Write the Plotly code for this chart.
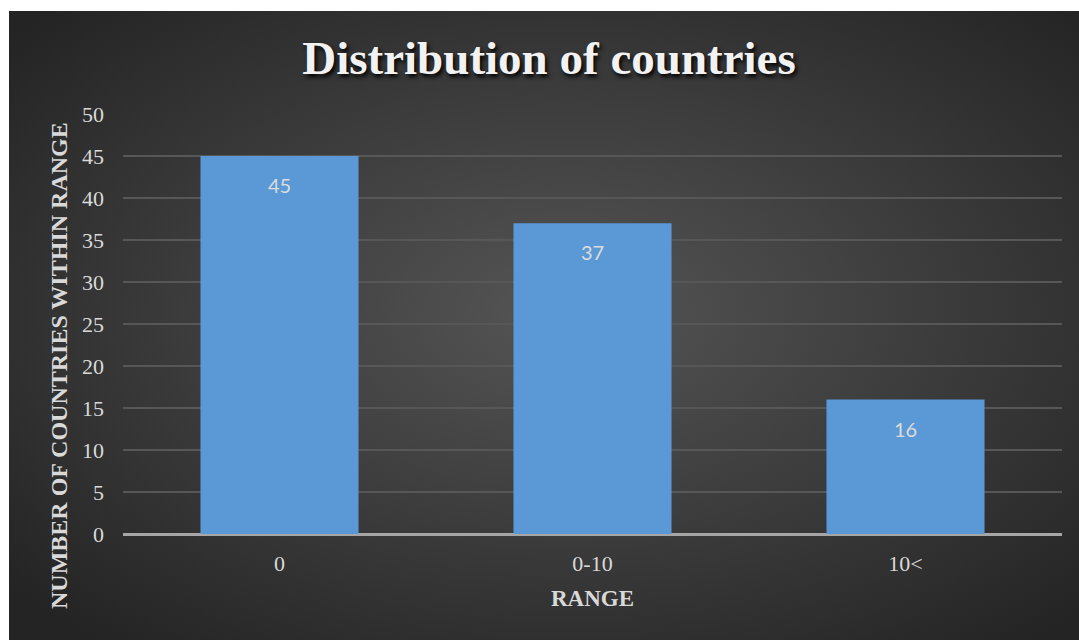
import plotly.graph_objects as go
import urllib.parse

categories = ["0", "0-10", "10<"]
counts = [45, 37, 16]
y_ticks = [0, 5, 10, 15, 20, 25, 30, 35, 40, 45, 50]

W, H = 1079, 640
svg = ('<svg xmlns="http://www.w3.org/2000/svg" width="1070" height="629" viewBox="0 0 1070 629">'
       '<defs><radialGradient id="g" cx="52%" cy="48%" r="68%">'
       '<stop offset="0" stop-color="#555555"/><stop offset="1" stop-color="#242424"/>'
       '</radialGradient></defs><rect width="1070" height="629" fill="url(#g)"/></svg>')
bg_src = "data:image/svg+xml;charset=utf-8," + urllib.parse.quote(svg)

fig = go.Figure()
fig.add_trace(go.Bar(
    x=categories, y=counts, width=0.505,
    marker=dict(color="#5a98d6", line=dict(width=0)),
    hoverinfo="skip",
))

for c, v in zip(categories, counts):
    fig.add_annotation(x=c, y=v, text=str(v), showarrow=False, yshift=-29,
                       font=dict(family="Lato, sans-serif", size=20, color="#dcdcdc"))

fig.add_annotation(xref="paper", yref="paper", x=-(123 - 59) / (1079 - 140), xanchor="center",
                   y=(640 - 366 - 106) / (640 - 114 - 106), yanchor="middle",
                   text="<b>NUMBER OF COUNTRIES WITHIN RANGE</b>", textangle=-90, showarrow=False,
                   font=dict(family="Liberation Serif", size=24, color="#d9d9d9"))
fig.add_annotation(xref="paper", yref="paper", x=0.5, y=-(598 - 534) / (640 - 114 - 106),
                   yanchor="middle", text="<b>RANGE</b>", showarrow=False,
                   font=dict(family="Liberation Serif", size=23, color="#d9d9d9"))

fig.update_layout(
    width=W, height=H,
    margin=dict(l=123, r=17, t=114, b=106),
    paper_bgcolor="white",
    plot_bgcolor="rgba(0,0,0,0)",
    images=[dict(source=bg_src, xref="paper", yref="paper",
                 x=-(123 - 9) / (1079 - 140), y=1 + (114 - 11) / (640 - 220),
                 sizex=1070 / (1079 - 140), sizey=629 / (640 - 220),
                 xanchor="left", yanchor="top", sizing="stretch", layer="below")],
    title=dict(text="<b>Distribution of countries</b>", x=549 / 1079, xref="container", xanchor="center",
               y=1 - 58 / 640, yref="container", yanchor="middle",
               font=dict(family="Liberation Serif", size=47, color="#f2f2f2",
                         shadow="2px 3px 4px #000000")),
    bargap=0.495,
    showlegend=False,
    xaxis=dict(showgrid=False, ticks="", showline=False, ticklabelstandoff=14,
               tickfont=dict(family="Liberation Serif", size=22, color="#d9d9d9")),
    yaxis=dict(range=[0, 50], tickvals=y_ticks, showgrid=True, gridcolor="#575757", gridwidth=1.5,
               zeroline=True, zerolinecolor="#a6a6a6", zerolinewidth=2.5, showline=False,
               ticks="", ticklen=0, ticklabelstandoff=18,
               tickfont=dict(family="Liberation Serif", size=22, color="#d9d9d9")),
)
fig.write_html("out.html")
